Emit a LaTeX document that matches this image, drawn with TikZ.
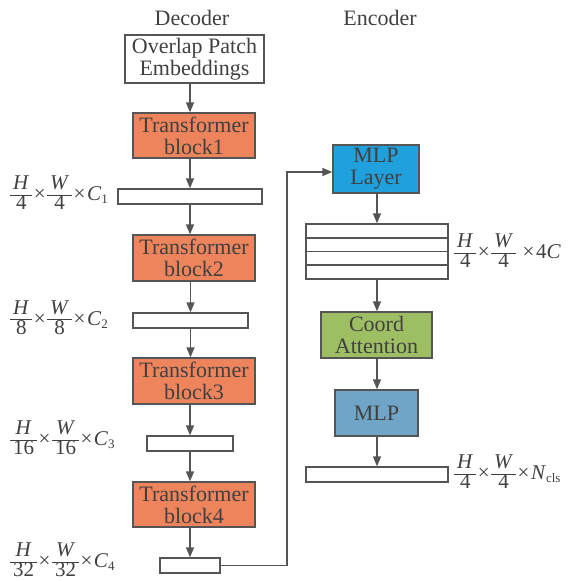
\documentclass[tikz,border=0pt]{standalone}
\usepackage{fontspec}
\setmainfont{Liberation Serif}
\usetikzlibrary{arrows.meta,calc}
\definecolor{txt}{RGB}{64,64,64}
\definecolor{brd}{RGB}{85,85,85}
\definecolor{orng}{RGB}{238,132,92}
\definecolor{cyanb}{RGB}{32,160,220}
\definecolor{grn}{RGB}{158,190,100}
\definecolor{steel}{RGB}{112,165,200}
\newcommand\myfr[2]{{\renewcommand\arraystretch{0.8}\setlength\arrayrulewidth{0.8pt}\setlength\tabcolsep{3pt}\begin{tabular}{c}#1\\\hline #2\end{tabular}}}
\newcommand\mysub[1]{\raisebox{-3pt}{\fontsize{13}{13}\selectfont #1}}
\newcommand\mytimes{\hspace{1.5pt}{\fontsize{21}{21}\selectfont\raisebox{0pt}{×}}\hspace{1.5pt}}
\begin{document}
\begin{tikzpicture}[x=1pt,y=-1pt,
  every node/.style={text=txt, font=\fontsize{22}{22}\selectfont, inner sep=0pt},
  box/.style={draw=brd, line width=1.3pt, align=center},
  bar/.style={draw=brd, line width=1.3pt, fill=white, minimum height=15pt},
  arr/.style={draw=brd, line width=1.3pt, -{Triangle[length=10pt,width=8pt]}},
  lab/.style={anchor=west, font=\fontsize{21}{21}\selectfont}
]
\useasboundingbox (0,0) rectangle (570,582);
% titles
\node (dec) at (192,18) {Decoder};
\node (enc) at (380,18) {Encoder};
% decoder
\node[box, minimum width=139pt, minimum height=48pt] (ope) at (194.5,59) {Overlap Patch\\Embeddings};
\node[box, fill=orng, minimum width=122pt, minimum height=45pt] (tb1) at (194,135.5) {Transformer\\block1};
\node[bar, minimum width=144pt] (bar1) at (190,196.5) {};
\node[box, fill=orng, minimum width=122pt, minimum height=46pt] (tb2) at (194,258) {Transformer\\block2};
\node[bar, minimum width=115pt] (bar2) at (190.5,320.5) {};
\node[box, fill=orng, minimum width=122pt, minimum height=46pt] (tb3) at (194,381) {Transformer\\block3};
\node[bar, minimum width=86pt] (bar3) at (190,443.5) {};
\node[box, fill=orng, minimum width=122pt, minimum height=45pt] (tb4) at (194,504.5) {Transformer\\block4};
\node[bar, minimum width=60pt] (bar4) at (190,565.5) {};
% decoder labels
\node[lab] (l1) at (10,195) {\myfr{\textit{H}}{4}\mytimes\myfr{\textit{W}}{4}\mytimes\textit{C}\mysub{1}};
\node[lab] (l2) at (10,320) {\myfr{\textit{H}}{8}\mytimes\myfr{\textit{W}}{8}\mytimes\textit{C}\mysub{2}};
\node[lab] (l3) at (10,440) {\myfr{\textit{H}}{16}\mytimes\myfr{\textit{W}}{16}\mytimes\textit{C}\mysub{3}};
\node[lab] (l4) at (10,562) {\myfr{\textit{H}}{32}\mytimes\myfr{\textit{W}}{32}\mytimes\textit{C}\mysub{4}};
% decoder arrows
\draw[arr] (ope.south -| bar1) -- (tb1.north -| bar1);
\draw[arr] (tb1.south -| bar1) -- (bar1.north);
\draw[arr] (bar1.south) -- (tb2.north -| bar1);
\draw[arr] (tb2.south -| bar2) -- (bar2.north);
\draw[arr] (bar2.south) -- (tb3.north -| bar2);
\draw[arr] (tb3.south -| bar3) -- (bar3.north);
\draw[arr] (bar3.south) -- (tb4.north -| bar3);
\draw[arr] (tb4.south -| bar4) -- (bar4.north);
% encoder
\node[box, fill=cyanb, minimum width=86pt, minimum height=48pt] (mlpl) at (376,169) {MLP\\Layer};
\node[draw=brd, line width=1.3pt, minimum width=142pt, minimum height=55pt] (stk) at (377,251.5) {};
\draw[brd, line width=1.3pt] (stk.west |- 0,238) -- (stk.east |- 0,238);
\draw[brd, line width=1.3pt] (stk.west |- 0,251.5) -- (stk.east |- 0,251.5);
\draw[brd, line width=1.3pt] (stk.west |- 0,265) -- (stk.east |- 0,265);
\node[box, fill=grn, minimum width=111pt, minimum height=46pt] (coord) at (376.5,335) {Coord\\Attention};
\node[box, fill=steel, minimum width=83pt, minimum height=46pt] (mlp) at (376.5,413) {MLP};
\node[bar, minimum width=142pt] (bare) at (377,474.5) {};
\node[lab] (l5) at (454,253) {\myfr{\textit{H}}{4}\mytimes\myfr{\textit{W}}{4}\hspace{5pt}\mytimes4\textit{C}};
\node[lab] (l6) at (454,474) {\myfr{\textit{H}}{4}\mytimes\myfr{\textit{W}}{4}\mytimes\textit{N}\mysub{cls}};
% encoder arrows
\draw[arr] (mlpl.south -| stk) -- (stk.north);
\draw[arr] (stk.south) -- (coord.north -| stk);
\draw[arr] (coord.south -| stk) -- (mlp.north -| stk);
\draw[arr] (mlp.south -| stk) -- (bare.north);
% skip connection
\coordinate (turn) at (287,565.5);
\draw[arr] (bar4.east) -- (turn) |- ([yshift=-3pt]mlpl.west);
\end{tikzpicture}
\end{document}
